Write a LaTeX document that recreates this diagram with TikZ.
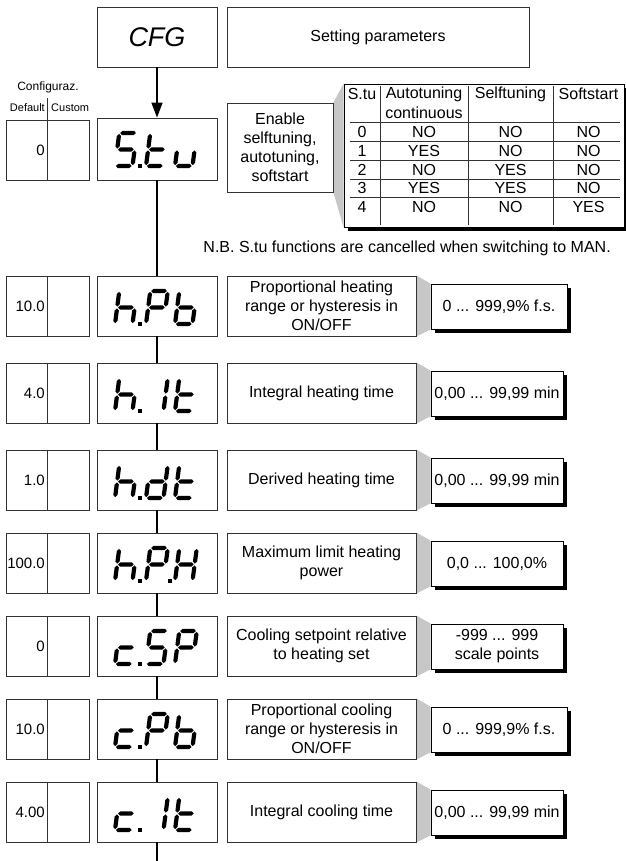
\documentclass[tikz,border=0pt]{standalone}
\usepackage{fontspec}
\setmainfont{Liberation Sans}
\usetikzlibrary{arrows.meta,shadows}
\pgfdeclarelayer{bg}
\pgfsetlayers{bg,main}

% seven-segment helpers
\newcommand{\hsg}[3]{\fill (#1,#3) -- (#1+2.1,#3+2.1) -- (#2-2.1,#3+2.1) -- (#2,#3) -- (#2-2.1,#3-2.1) -- (#1+2.1,#3-2.1) -- cycle;}
\newcommand{\vsg}[3]{\fill (#1,#2) -- (#1+2.1,#2+2.1) -- (#1+2.1,#3-2.1) -- (#1,#3) -- (#1-2.1,#3-2.1) -- (#1-2.1,#2+2.1) -- cycle;}
\newcommand{\sgA}{\hsg{0.9}{16.6}{33}}
\newcommand{\sgB}{\vsg{17.5}{17.4}{32.1}}
\newcommand{\sgC}{\vsg{17.5}{0.9}{15.6}}
\newcommand{\sgD}{\hsg{0.9}{16.6}{0}}
\newcommand{\sgE}{\vsg{0}{0.9}{15.6}}
\newcommand{\sgF}{\vsg{0}{17.4}{32.1}}
\newcommand{\sgG}{\hsg{0.9}{16.6}{16.5}}
\newcommand{\svS}{\sgA\sgF\sgG\sgC\sgD}
\newcommand{\svt}{\sgD\sgE\sgF\sgG}
\newcommand{\svu}{\sgC\sgD\sgE}
\newcommand{\svh}{\sgC\sgE\sgF\sgG}
\newcommand{\svP}{\sgA\sgB\sgE\sgF\sgG}
\newcommand{\svb}{\sgC\sgD\sgE\sgF\sgG}
\newcommand{\svI}{\sgB\sgC}
\newcommand{\svd}{\sgB\sgC\sgD\sgE\sgG}
\newcommand{\svH}{\sgB\sgC\sgE\sgF\sgG}
\newcommand{\svc}{\sgD\sgE\sgG}
\newcommand{\gly}[3]{\begin{scope}[shift={(#1,#2)},x=1pt,y=1pt,xslant=0.13]#3\end{scope}}
\newcommand{\dotp}[2]{\fill (#1-2,#2-2) rectangle (#1+2,#2+2);}
\newcommand{\three}[4]{\gly{115}{#1}{#2}\gly{146}{#1}{#3}\gly{175}{#1}{#4}}

\tikzset{
  bx/.style={draw=black!80, line width=0.9pt, fill=white, inner sep=0pt, align=center, font=\fontsize{16}{19}\selectfont},
  disp/.style={bx, minimum width=120pt, minimum height=60pt},
  cfgbox/.style={bx, minimum width=83pt, minimum height=60pt},
  desc/.style={bx, minimum width=189pt, minimum height=60pt},
  val/.style={bx, draw=black, minimum height=45pt, general shadow={shadow xshift=4pt, shadow yshift=-4pt, fill=black}},
  shade/.style={fill=black!22},
  conn/.style={line width=1.7pt, black},
  cfgval/.style={font=\fontsize{15}{18}\selectfont, anchor=east, inner sep=0pt},
  tbltxt/.style={font=\fontsize{16}{19}\selectfont, inner sep=0pt},
  tline/.style={line width=0.9pt, black!80},
}

\newcommand{\mkrow}[6]{%
  \node[cfgbox] (#1c) at (47.5,#2+30) {};
  \draw[tline] (#1c.north) -- (#1c.south);
  \node[cfgval] (#1n) at (45,#2+30) {#3};
  \node[disp] (#1) at (157,#2+30) {};
  \node[desc] (#1d) at (321.5,#2+30) {#4};
  \node[val, minimum width=#6pt] (#1v) at (431+#6/2,#2+30.5) {#5};
  \begin{pgfonlayer}{bg}\fill[shade] (#1d.north east) -- (#1v.north west) -- (#1v.south west) -- (#1d.south east) -- cycle;\end{pgfonlayer}
}

\begin{document}
\begin{tikzpicture}[x=1pt,y=-1pt]
\useasboundingbox (0,0) rectangle (625,861);

% top row
\node[disp, font=\fontsize{27}{30}\selectfont\itshape] (cfg) at (157,37) {CFG};
\node[bx, minimum width=302pt, minimum height=60pt] (setp) at (378,37) {Setting parameters};

% configuration heading
\node[inner sep=0pt, font=\fontsize{12}{14}\selectfont] (cfgt) at (48,87) {Configuraz.};
\node[inner sep=0pt, anchor=east, font=\fontsize{11}{13}\selectfont] (dflt) at (45,108) {Default};
\node[inner sep=0pt, anchor=west, font=\fontsize{11}{13}\selectfont] (cust) at (51,108) {Custom};

% S.tu row
\node[cfgbox] (stuc) at (47.5,150) {};
\coordinate (dvt) at (47.5,98);
\draw[tline] (dvt) -- (stuc.south);
\node[cfgval] (stun) at (45,150) {0};
\node[disp, minimum height=62pt] (stu) at (157,149) {};
\three{166}{\svS}{\svt}{\svu}\dotp{139.5}{166}
\node[bx, minimum width=106pt, minimum height=89pt] (en) at (280,147.5) {Enable\\selftuning,\\autotuning,\\softstart};

% table
\node[bx, draw=black, minimum width=280pt, minimum height=143pt, general shadow={shadow xshift=4pt, shadow yshift=-4pt, fill=black}] (tab) at (484,155.5) {};
\begin{pgfonlayer}{bg}\fill[shade] (en.north east) -- (tab.north west) -- (tab.south west) -- (en.south east) -- cycle;\end{pgfonlayer}
\foreach \xx in {380,468,553} \draw[tline] (\xx,86) -- (\xx,225);
\foreach \yy in {122,141,160,179,197} \draw[tline] (350,\yy) -- (620,\yy);
\node[tbltxt] (h1) at (362,94) {S.tu};
\node[tbltxt] (h2) at (424,94) {Autotuning};
\node[tbltxt] (h2b) at (424,113) {continuous};
\node[tbltxt] (h3) at (510.5,94) {Selftuning};
\node[tbltxt] (h4) at (588.5,94) {Softstart};
\foreach \r/\yy/\a/\b/\c in {0/131.5/NO/NO/NO, 1/150.5/YES/NO/NO, 2/169.5/NO/YES/NO, 3/188/YES/YES/NO, 4/207/NO/NO/YES} {
  \node[tbltxt] (r\r a) at (362,\yy) {\r};
  \node[tbltxt] (r\r b) at (424,\yy) {\a};
  \node[tbltxt] (r\r c) at (510.5,\yy) {\b};
  \node[tbltxt] (r\r d) at (588.5,\yy) {\c};
}
\node[tbltxt, anchor=east] (nb) at (611,248) {N.B. S.tu functions are cancelled when switching to MAN.};

% parameter rows
\mkrow{hpb}{276}{10.0}{Proportional heating\\range or hysteresis in\\ON/OFF}{0 ... 999,9\% f.s.}{136}
\three{324}{\svh}{\svP}{\svb}\dotp{139.5}{324}
\mkrow{hit}{363}{4.0}{Integral heating time}{0,00 ... 99,99 min}{132}
\three{411}{\svh}{\svI}{\svt}\dotp{139.5}{411}
\mkrow{hdt}{450}{1.0}{Derived heating time}{0,00 ... 99,99 min}{132}
\three{498}{\svh}{\svd}{\svt}\dotp{139.5}{498}
\mkrow{hph}{533}{100.0}{Maximum limit heating\\power}{0,0 ... 100,0\%}{132}
\three{581}{\svh}{\svP}{\svH}\dotp{139.5}{581}\dotp{170}{581}
\mkrow{csp}{616}{0}{Cooling setpoint relative\\to heating set}{-999 ... 999\\scale points}{132}
\three{664}{\svc}{\svS}{\svP}\dotp{139.5}{664}
\mkrow{cpb}{699}{10.0}{Proportional cooling\\range or hysteresis in\\ON/OFF}{0 ... 999,9\% f.s.}{136}
\three{747}{\svc}{\svP}{\svb}\dotp{139.5}{747}
\mkrow{cit}{782}{4.00}{Integral cooling time}{0,00 ... 99,99 min}{132}
\three{830}{\svc}{\svI}{\svt}\dotp{139.5}{830}

% connectors
\draw[conn, -{Triangle[length=15pt,width=11pt]}] (cfg.south) -- (stu.north);
\draw[conn] (stu.south) -- (hpb.north);
\draw[conn] (hpb.south) -- (hit.north);
\draw[conn] (hit.south) -- (hdt.north);
\draw[conn] (hdt.south) -- (hph.north);
\draw[conn] (hph.south) -- (csp.north);
\draw[conn] (csp.south) -- (cpb.north);
\draw[conn] (cpb.south) -- (cit.north);
\coordinate (endp) at (157,861);
\draw[conn] (cit.south) -- (endp);
\end{tikzpicture}
\end{document}
